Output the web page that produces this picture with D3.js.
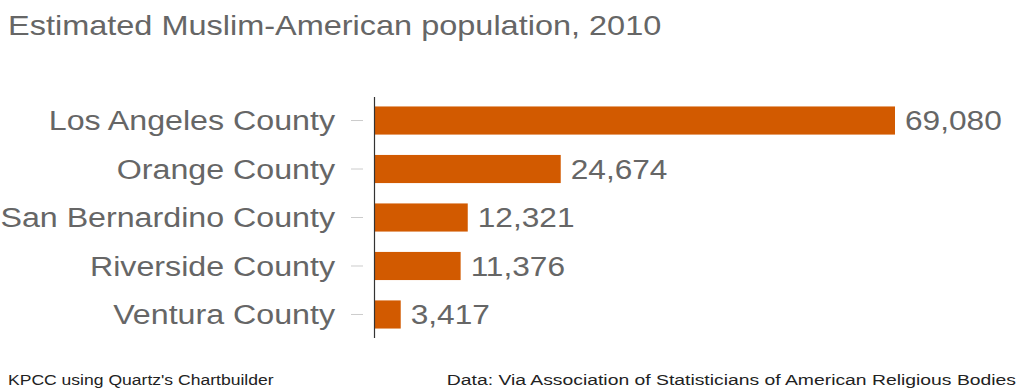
<!DOCTYPE html>
<html>
<head>
<meta charset="utf-8">
<script src="https://cdn.jsdelivr.net/npm/d3@7"></script>
<style>
  body { margin: 0; background: #fff; }
  svg { display: block; font-family: 'Liberation Sans', Arial, sans-serif; }
</style>
</head>
<body>
<div id="chart"></div>
<script>
const counties = ['Los Angeles County', 'Orange County', 'San Bernardino County', 'Riverside County', 'Ventura County'];
const population = [69080, 24674, 12321, 11376, 3417];

const W = 1024, H = 392;
const textColor = '#666';
const barColor = '#d25a00';
const stretch = 1.15; // source glyphs are wider than Liberation Sans

const svg = d3.select('#chart').append('svg')
  .attr('width', W).attr('height', H);

// text placed at (x, y) and widened horizontally
function wideText(sel, x, y, s) {
  return sel.append('text')
    .attr('transform', `translate(${x},${y}) scale(${s},1)`);
}

// title
wideText(svg, 8, 35, 1.16)
  .style('font-size', '28px')
  .attr('fill', textColor)
  .text('Estimated Muslim-American population, 2010');

const x = d3.scaleLinear().domain([0, 69080]).range([375, 895]);
const y = d3.scaleBand().domain(counties).range([97, 338])
  .paddingInner(0.42).paddingOuter(0.195);

const rows = counties.map((c, i) => ({ county: c, value: population[i] }));

// y axis with short grey ticks
const yAxis = svg.append('g')
  .attr('transform', 'translate(374,0)')
  .call(d3.axisLeft(y).tickSize(0).tickPadding(0));
yAxis.select('.domain').remove();
yAxis.selectAll('.tick text').remove();
yAxis.selectAll('.tick').append('line')
  .attr('x1', -23).attr('x2', -11)
  .attr('stroke', '#ccc').attr('stroke-width', 1);
yAxis.selectAll('.tick').append('text')
  .attr('transform', `translate(-39,0) scale(${stretch},1)`)
  .attr('dy', '0.35em')
  .attr('text-anchor', 'end')
  .style('font-size', '28px')
  .attr('fill', textColor)
  .text(d => d);

// bars
svg.selectAll('.bar')
  .data(rows)
  .join('rect')
  .attr('class', 'bar')
  .attr('x', x(0))
  .attr('y', d => y(d.county))
  .attr('width', d => x(d.value) - x(0))
  .attr('height', y.bandwidth())
  .attr('fill', barColor);

// value labels
svg.selectAll('.val')
  .data(rows)
  .join('text')
  .attr('class', 'val')
  .attr('transform', d => `translate(${x(d.value) + 10},${y(d.county) + y.bandwidth() / 2}) scale(1.13,1)`)
  .attr('dy', '0.35em')
  .style('font-size', '28px')
  .attr('fill', textColor)
  .text(d => d3.format(',')(d.value));

// vertical axis line
svg.append('line')
  .attr('x1', 374.5).attr('x2', 374.5)
  .attr('y1', 97).attr('y2', 338)
  .attr('stroke', '#333').attr('stroke-width', 1.2);

// footer
wideText(svg, 8, 385, 1.17)
  .style('font-size', '15px')
  .attr('fill', '#222')
  .text("KPCC using Quartz's Chartbuilder");
wideText(svg, 1016, 385, 1.29)
  .attr('text-anchor', 'end')
  .style('font-size', '15px')
  .attr('fill', '#222')
  .text('Data: Via Association of Statisticians of American Religious Bodies');
</script>
</body>
</html>
